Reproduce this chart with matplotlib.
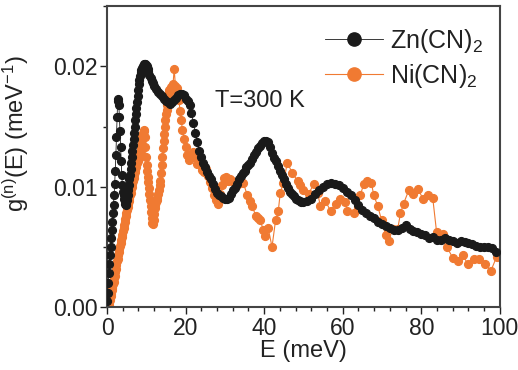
import numpy as np
import matplotlib
matplotlib.use("Agg")
import matplotlib.pyplot as plt
from matplotlib.ticker import MultipleLocator, FormatStrFormatter

plt.rcParams["font.family"] = ["Liberation Sans", "DejaVu Sans"]
plt.rcParams["mathtext.fontset"] = "custom"
plt.rcParams["mathtext.rm"] = "Liberation Sans"
plt.rcParams["mathtext.it"] = "Liberation Sans:italic"

# Zn(CN)2 : energy (meV), g(E) (1/meV)
zn_e = [0.0, 0.15, 0.3, 0.45, 0.6, 0.75, 0.9, 1.05, 1.2, 1.35, 1.5, 1.65,
        1.8, 1.95, 2.1, 2.25, 2.4, 2.55, 2.7, 2.85, 3.0, 3.15, 3.3, 3.45, 3.6,
        3.75, 3.9, 4.05, 4.2, 4.35, 4.5, 4.65, 4.8, 4.95, 5.1, 5.25, 5.4, 5.55,
        5.7, 5.85, 6.0, 6.15, 6.3, 6.45, 6.6, 6.75, 6.9, 7.05, 7.2, 7.35, 7.5,
        7.65, 7.8, 7.95, 8.1, 8.25, 8.4, 8.55, 8.7, 8.85, 9.0, 9.15, 9.3, 9.45,
        9.6, 9.75, 9.9, 10.05, 10.2, 10.35, 10.5, 10.8, 11.1, 11.4, 11.7, 12.0,
        12.5, 13.0, 13.5, 14.0, 14.5, 15.0, 15.5, 16.0, 16.5, 17.0, 17.5, 18.0,
        18.5, 19.0, 19.5, 20.0, 20.5, 21.0, 21.5, 22.0, 22.5, 23.0, 23.5, 24.0,
        24.5, 25.0, 25.5, 26.0, 26.5, 27.0, 27.5, 28.0, 28.5, 29.0, 29.5, 30.0,
        30.5, 31.0, 31.5, 32.0, 32.5, 33.0, 33.5, 34.0, 34.5, 35.0, 35.5, 36.0,
        36.5, 37.0, 37.5, 38.0, 38.5, 39.0, 39.5, 40.0, 40.5, 41.0, 41.5, 42.0,
        42.5, 43.0, 43.5, 44.0, 44.5, 45.0, 45.5, 46.0, 46.5, 47.0, 47.5, 48.0,
        48.5, 49.0, 49.5, 50.0, 51.0, 52.0, 53.0, 54.0, 55.0, 56.0, 57.0, 58.0,
        59.0, 60.0, 61.0, 62.0, 63.0, 64.0, 65.0, 66.0, 67.0, 68.0, 69.0, 70.0,
        71.0, 72.0, 73.0, 74.0, 75.0, 76.0, 77.0, 78.0, 79.0, 80.0, 81.0, 82.0,
        83.0, 84.0, 85.0, 86.0, 87.0, 88.0, 89.0, 90.0, 91.0, 92.0, 93.0, 94.0,
        95.0, 96.0, 97.0, 98.0, 99.0]
zn_g = [0.0005, 0.0012, 0.002, 0.0028, 0.0036, 0.0043, 0.005, 0.0057, 0.0064,
        0.0071, 0.0078, 0.0085, 0.0093, 0.0102, 0.0113, 0.0126, 0.0141, 0.0158,
        0.0171, 0.0173, 0.0168, 0.0158, 0.0146, 0.0133, 0.0121, 0.011, 0.0101,
        0.0096, 0.0093, 0.009, 0.0088, 0.0086, 0.0085, 0.0086, 0.0089, 0.0093,
        0.0097, 0.0101, 0.0106, 0.011, 0.0115, 0.012, 0.0125, 0.013, 0.0135,
        0.014, 0.0145, 0.015, 0.0155, 0.016, 0.0165, 0.017, 0.0175, 0.018,
        0.0185, 0.0189, 0.0192, 0.0195, 0.0197, 0.0198, 0.0199, 0.02, 0.0201,
        0.0202, 0.0202, 0.0202, 0.0201, 0.02, 0.0199, 0.0198, 0.0196, 0.0193,
        0.019, 0.0188, 0.0186, 0.0184, 0.0181, 0.0179, 0.0177, 0.0175, 0.0173,
        0.0171, 0.017, 0.0169, 0.017, 0.0172, 0.0174, 0.0176, 0.0177, 0.0177,
        0.0176, 0.0173, 0.0171, 0.0168, 0.0161, 0.0153, 0.0145, 0.0137, 0.013,
        0.0125, 0.012, 0.0116, 0.0112, 0.0109, 0.0106, 0.0102, 0.0098, 0.0095,
        0.0093, 0.0092, 0.0091, 0.009, 0.009, 0.0091, 0.0094, 0.0097, 0.0099,
        0.0102, 0.0106, 0.0109, 0.0111, 0.0113, 0.0116, 0.0118, 0.012, 0.0123,
        0.0126, 0.0129, 0.0132, 0.0134, 0.0136, 0.0138, 0.0138, 0.0137, 0.0133,
        0.0128, 0.0124, 0.0121, 0.0117, 0.0113, 0.011, 0.0106, 0.0102, 0.0099,
        0.0096, 0.0094, 0.0092, 0.009, 0.0089, 0.0088, 0.0087, 0.0087, 0.0088,
        0.009, 0.0094, 0.0097, 0.01, 0.0102, 0.0103, 0.0102, 0.0101, 0.0099,
        0.0096, 0.0093, 0.0089, 0.0085, 0.0081, 0.0078, 0.0076, 0.0074, 0.0071,
        0.0069, 0.0067, 0.0066, 0.0064, 0.0064, 0.0066, 0.0068, 0.0065, 0.0063,
        0.0062, 0.0061, 0.006, 0.0057, 0.0058, 0.0056, 0.0056, 0.0057, 0.0056,
        0.0055, 0.0053, 0.0055, 0.0054, 0.0053, 0.0052, 0.0051, 0.005, 0.005,
        0.005, 0.0049, 0.0046]

# Ni(CN)2
ni_e = [0.3, 0.45, 0.6, 0.75, 0.9, 1.05, 1.2, 1.35, 1.5, 1.65, 1.8, 1.95, 2.1,
        2.25, 2.4, 2.55, 2.7, 2.85, 3.0, 3.15, 3.3, 3.45, 3.6, 3.75, 3.9, 4.05,
        4.2, 4.35, 4.5, 4.65, 4.8, 4.95, 5.1, 5.25, 5.4, 5.55, 5.7, 5.85, 6.0,
        6.15, 6.3, 6.45, 6.6, 6.75, 6.9, 7.05, 7.2, 7.35, 7.5, 7.65, 7.8, 7.95,
        8.1, 8.25, 8.4, 8.55, 8.7, 8.85, 9.0, 9.15, 9.3, 9.45, 9.6, 9.75, 9.9,
        10.05, 10.2, 10.35, 10.5, 10.65, 10.8, 10.95, 11.1, 11.25, 11.4, 11.55,
        11.7, 11.85, 12.0, 12.15, 12.3, 12.45, 12.6, 12.8, 13.0, 13.2, 13.4,
        13.6, 13.8, 13.95, 14.1, 14.25, 14.4, 14.55, 14.7, 14.85, 15.0, 15.15,
        15.3, 15.45, 15.6, 15.75, 15.9, 16.2, 16.5, 16.8, 17.1, 17.4, 17.7,
        18.0, 18.3, 18.6, 18.9, 19.2, 19.6, 20.0, 20.4, 20.8, 21.3, 21.8, 22.3,
        22.8, 23.3, 23.8, 24.3, 24.8, 25.3, 25.8, 26.3, 26.8, 27.3, 27.8, 28.3,
        28.8, 29.3, 29.8, 30.3, 30.8, 31.3, 31.9, 32.5, 33.2, 33.9, 34.7, 35.7,
        36.4, 37.0, 37.8, 38.4, 39.0, 39.8, 40.3, 41.0, 42.0, 42.9, 43.6, 44.1,
        44.9, 45.9, 47.2, 48.5, 49.2, 50.0, 51.3, 52.6, 53.6, 54.3, 55.6, 56.9,
        58.2, 59.4, 60.7, 61.2, 62.8, 63.8, 64.5, 65.3, 66.3, 67.3, 67.9, 68.9,
        69.9, 70.9, 71.7, 72.7, 74.0, 74.7, 75.5, 76.8, 78.0, 79.2, 80.4, 81.6,
        82.9, 83.9, 85.5, 86.5, 88.0, 89.3, 90.6, 91.8, 93.4, 94.6, 96.2, 97.7,
        99.2]
ni_g = [0.0, 0.0002, 0.0004, 0.0006, 0.0009, 0.0011, 0.0014, 0.0016, 0.0019,
        0.0021, 0.0024, 0.0026, 0.0029, 0.0032, 0.0035, 0.0038, 0.004, 0.0043,
        0.0046, 0.0048, 0.0051, 0.0053, 0.0056, 0.0058, 0.006, 0.0063, 0.0066,
        0.0068, 0.0071, 0.0073, 0.0076, 0.0078, 0.0081, 0.0083, 0.0086, 0.0088,
        0.009, 0.0093, 0.0095, 0.0098, 0.01, 0.0102, 0.0105, 0.0107, 0.011,
        0.0112, 0.0114, 0.0116, 0.0118, 0.012, 0.0121, 0.0123, 0.0124, 0.0126,
        0.0128, 0.0131, 0.0135, 0.0139, 0.0142, 0.0145, 0.0147, 0.0146, 0.0141,
        0.0133, 0.0125, 0.0118, 0.0113, 0.0108, 0.0104, 0.0099, 0.0094, 0.0089,
        0.0084, 0.0079, 0.0074, 0.007, 0.0069, 0.0072, 0.0077, 0.0082, 0.0085,
        0.0087, 0.0089, 0.0091, 0.0094, 0.0097, 0.0101, 0.0105, 0.0111, 0.0118,
        0.0125, 0.0132, 0.0138, 0.0144, 0.015, 0.0155, 0.016, 0.0164, 0.0168,
        0.0172, 0.0175, 0.0178, 0.018, 0.0183, 0.0181, 0.0185, 0.0198, 0.0184,
        0.0182, 0.0178, 0.0172, 0.0163, 0.0155, 0.0147, 0.014, 0.0133, 0.0126,
        0.0122, 0.0125, 0.0129, 0.0125, 0.0119, 0.0122, 0.0118, 0.0114, 0.0112,
        0.0115, 0.0109, 0.0104, 0.0099, 0.0093, 0.0089, 0.0086, 0.0094, 0.0101,
        0.0107, 0.0108, 0.0105, 0.0106, 0.0105, 0.0103, 0.0101, 0.0104, 0.0103,
        0.0093, 0.0088, 0.0084, 0.0076, 0.0074, 0.0072, 0.0064, 0.0059, 0.0066,
        0.005, 0.0072, 0.008, 0.0095, 0.0103, 0.012, 0.0111, 0.0105, 0.0101,
        0.0097, 0.0094, 0.0102, 0.0095, 0.0084, 0.0088, 0.008, 0.0086, 0.009,
        0.0087, 0.008, 0.0078, 0.0083, 0.0093, 0.0102, 0.0105, 0.0103, 0.0093,
        0.0084, 0.0072, 0.006, 0.0055, 0.0065, 0.0065, 0.0078, 0.0086, 0.0097,
        0.0094, 0.0098, 0.009, 0.0093, 0.0091, 0.0062, 0.0061, 0.005, 0.0041,
        0.0038, 0.0043, 0.0036, 0.004, 0.004, 0.0036, 0.003, 0.0042]

fig = plt.figure(figsize=(5.18, 3.70), dpi=100)
ax = fig.add_axes([0.2066, 0.170, 0.7584, 0.8135])

ax.plot(zn_e, zn_g, "o-", color="#1a1a1a", ms=5.6, lw=0.6,
        mec="#1a1a1a", label="Zn(CN)$_2$", zorder=3)
ax.plot(ni_e, ni_g, "o-", color="#f07a32", ms=5.6, lw=0.8,
        mec="#f07a32", label="Ni(CN)$_2$", zorder=2)

ax.set_xlim(0, 100)
ax.set_ylim(0, 0.025)
ax.xaxis.set_major_locator(MultipleLocator(20))
ax.xaxis.set_minor_locator(MultipleLocator(4))
ax.yaxis.set_major_locator(MultipleLocator(0.01))
ax.yaxis.set_minor_locator(MultipleLocator(0.005))
ax.yaxis.set_major_formatter(FormatStrFormatter("%.2f"))
ax.tick_params(which="both", direction="out", top=False, right=False,
               labelsize=16.5, colors="#222222", width=1.0, pad=2)
ax.tick_params(which="major", length=5)
ax.tick_params(which="minor", length=3)
for s in ax.spines.values():
    s.set_linewidth(1.5)
    s.set_color("#444444")

ax.set_xlabel("E (meV)", fontsize=17, labelpad=0, color="#222222")
ax.set_ylabel(r"g$^{\rm (n)}$(E) (meV$^{-1}$)", fontsize=17, color="#222222")
ax.yaxis.set_label_coords(-0.193, 0.578)

ax.text(27.5, 0.0171, "T=300 K", fontsize=17, color="#222222", va="center")

ax.legend(loc="upper left", bbox_to_anchor=(0.555, 0.93), frameon=False,
          fontsize=18, handlelength=2.3, labelspacing=0.28, handletextpad=0.3,
          borderpad=0.0, borderaxespad=0.0, markerscale=1.7,
          labelcolor="#222222")

fig.savefig("out.png", dpi=100)
